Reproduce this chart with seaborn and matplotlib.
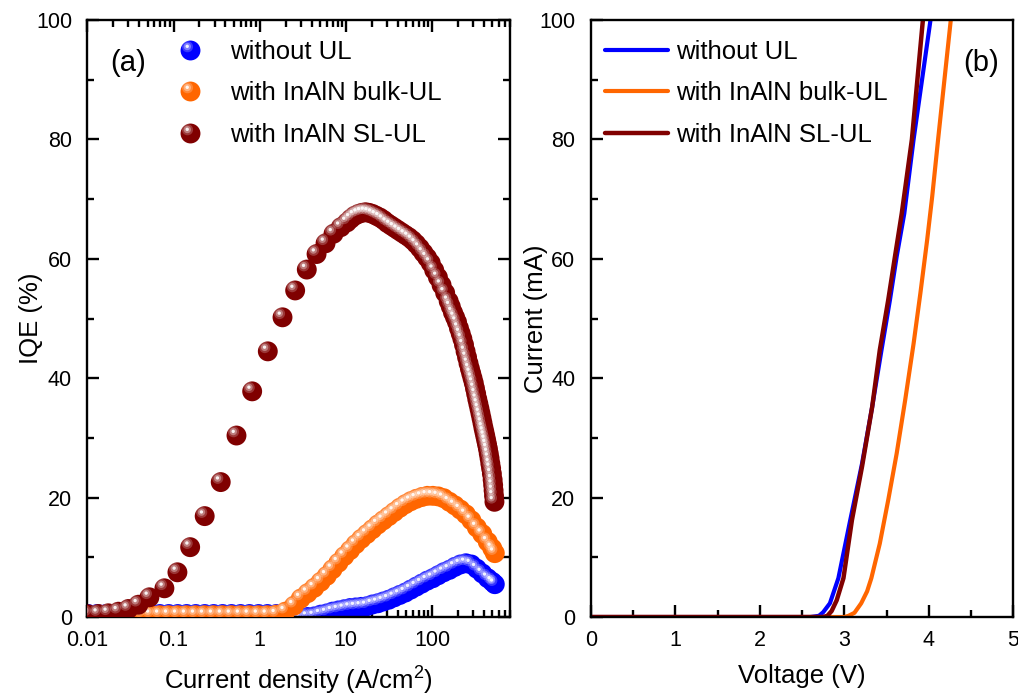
import matplotlib
matplotlib.use("Agg")
import matplotlib.pyplot as plt
import seaborn as sns
from matplotlib.path import Path
from matplotlib.markers import MarkerStyle
from matplotlib.lines import Line2D
from matplotlib.legend_handler import HandlerTuple
from matplotlib.ticker import FixedLocator, LogLocator, MultipleLocator, NullFormatter

OUTPUT_PATH = "out.png"

# ---- (a) IQE vs current density ----
series_names = ["without UL", "with InAlN bulk-UL", "with InAlN SL-UL"]
series_colors = ["#0000FF", "#FF6600", "#800000"]

j_bulk = [0.0102, 0.013, 0.0165, 0.021, 0.0266, 0.0338, 0.043, 0.0546, 0.0694, 0.088,
          0.112, 0.142, 0.181, 0.23, 0.292, 0.371, 0.471, 0.6, 0.76, 0.97, 1.23, 1.56,
          1.98, 2.5, 3.0, 3.6, 4.3, 5.1, 6.0, 7.0, 8.2, 9.6, 11.2, 13.0, 15.1, 17.5,
          20.3, 23.5, 27.2, 31.5, 36.5, 42.3, 49.0, 56.7, 65.7, 76.1, 88.1, 102, 118,
          137, 159, 184, 213, 247, 286, 331, 383, 443, 500, 535]

iqe_none = [0.5, 0.5, 0.5, 0.5, 0.5, 0.5, 0.5, 0.5, 0.5, 0.5, 0.5, 0.5, 0.5, 0.5, 0.5,
            0.5, 0.5, 0.5, 0.5, 0.5, 0.5, 0.5, 0.4, 0.2, -0.2, 0.0, 0.1, 0.4, 0.6, 0.9,
            1.1, 1.3, 1.5, 1.6, 1.7, 1.8, 2.1, 2.3, 2.6, 2.9, 3.3, 3.7, 4.1, 4.6, 5.1,
            5.6, 6.1, 6.5, 7.0, 7.5, 7.9, 8.4, 8.8, 9.0, 8.8, 8.1, 7.3, 6.5, 5.9, 5.5]

iqe_bulk = [0.3, 0.3, 0.3, 0.3, 0.3, 0.3, 0.3, 0.3, 0.3, 0.3, 0.3, 0.3, 0.3, 0.3, 0.3,
            0.3, 0.3, 0.3, 0.3, 0.3, 0.3, 0.4, 0.9, 1.9, 3.1, 4.0, 4.9, 5.9, 6.9, 8.0,
            9.1, 10.2, 11.2, 12.2, 13.1, 13.9, 14.7, 15.5, 16.2, 16.9, 17.6, 18.3, 18.9,
            19.4, 19.8, 20.1, 20.3, 20.3, 20.2, 19.9, 19.3, 18.7, 18.0, 17.2, 16.2, 15.0,
            13.9, 12.6, 11.5, 10.7]

j_sl = [0.0102, 0.0134, 0.0175, 0.0229, 0.0299, 0.0391, 0.0525, 0.0784, 0.111, 0.156,
        0.230, 0.353, 0.538, 0.818, 1.242, 1.84, 2.58, 3.52, 4.57, 5.81, 7.19, 8.75,
        10.3, 11.4, 12.6, 13.9, 15.3, 16.9, 18.6, 20.5, 22.6, 24.9, 27.4, 30.2, 33.3,
        36.7, 40.4, 44.5, 49.0, 54.0, 59.5, 65.5, 72.2, 79.5, 87.6, 96.5, 106, 117,
        129, 142, 156, 165, 175, 185, 195, 205, 215, 225, 235, 245, 255, 265, 275,
        285, 295, 305, 315, 325, 335, 345, 355, 365, 375, 385, 395, 405, 415, 425,
        435, 445, 455, 465, 475, 485, 495, 505, 512, 518, 524, 530]
iqe_sl = [0.45, 0.50, 0.62, 0.89, 1.34, 2.06, 3.30, 4.81, 7.49, 11.7, 16.9, 22.6, 30.4,
          37.8, 44.5, 50.2, 54.7, 58.2, 60.8, 62.6, 64.2, 65.3, 66.1, 66.7, 67.2, 67.5,
          67.7, 67.8, 67.7, 67.5, 67.2, 66.9, 66.5, 66.0, 65.6, 65.2, 64.8, 64.4, 64.0,
          63.6, 63.1, 62.5, 61.8, 61.0, 60.2, 59.3, 58.1, 56.9, 55.6, 54.3, 52.9, 52.0,
          51.0, 50.2, 49.4, 48.4, 47.5, 46.6, 45.6, 44.5, 43.5, 42.5, 41.6, 40.8, 40.0,
          39.2, 38.3, 37.4, 36.5, 35.7, 34.9, 34.1, 33.3, 32.5, 31.7, 31.0, 30.3, 29.6,
          28.9, 28.2, 27.4, 26.6, 25.7, 24.9, 24.0, 23.0, 22.1, 21.2, 20.3, 19.3]

j_ticks = [0.01, 0.1, 1, 10, 100]
j_ticklabels = ["0.01", "0.1", "1", "10", "100"]

# ---- (b) I-V curves ----
v_none = [0.0, 2.50, 2.60, 2.70, 2.75, 2.83, 2.93, 3.07, 3.21, 3.33, 3.44, 3.54, 3.62,
          3.71, 3.82, 4.02]
i_none = [0.0, 0.0, 0.0, 0.2, 0.8, 2.3, 6.5, 16.2, 25.7, 35.2, 44.7, 53.1, 60.4, 67.6,
          80.0, 100.0]

v_bulk = [0.0, 2.50, 3.00, 3.05, 3.12, 3.20, 3.27, 3.32, 3.42, 3.52, 3.62, 3.72, 3.82,
          3.90, 3.98, 4.04, 4.11, 4.26]
i_bulk = [0.0, 0.0, 0.0, 0.2, 0.7, 2.3, 4.3, 6.5, 12.3, 19.6, 27.4, 36.3, 45.8, 54.2,
          63.1, 70.4, 80.0, 100.0]

v_sl = [0.0, 2.50, 2.75, 2.80, 2.85, 2.91, 2.99, 3.09, 3.21, 3.33, 3.42, 3.52, 3.60,
        3.68, 3.80, 3.93]
i_sl = [0.0, 0.0, 0.0, 0.2, 1.0, 2.8, 6.5, 16.2, 25.2, 35.2, 44.7, 53.1, 60.4, 67.6,
        80.0, 100.0]


def highlight_marker(cx, cy, r):
    # off-centre glint; the two padding points keep the same scale as 'o'
    pad = Path([[1.0, 1.0], [-1.0, -1.0]], [Path.MOVETO, Path.MOVETO])
    return MarkerStyle(Path.make_compound_path(pad, Path.circle((cx, cy), r)))


# (marker, alpha) layers of the sphere glint, from soft halo to bright core
GLINT = [(highlight_marker(-0.30, 0.38, 0.56), 0.22),
         (highlight_marker(-0.32, 0.40, 0.37), 0.35),
         (highlight_marker(-0.33, 0.42, 0.17), 0.9)]
MS = 205


def sphere_scatter(ax, x, y, color, z):
    sns.scatterplot(x=x, y=y, ax=ax, color=color, s=MS, marker="o",
                    linewidth=0, edgecolor="none", zorder=z, legend=False)
    for k, (m, a) in enumerate(GLINT):
        sns.scatterplot(x=x, y=y, ax=ax, color="white", s=MS, marker=m, alpha=a,
                        linewidth=0, edgecolor="none", zorder=z + 0.1 * (k + 1),
                        legend=False)


def sphere_handle(color):
    ms = MS ** 0.5
    parts = [Line2D([], [], ls="none", marker="o", ms=ms, mfc=color, mec="none")]
    for m, a in GLINT:
        parts.append(Line2D([], [], ls="none", marker=m, ms=ms, mfc=(1, 1, 1, a),
                            mec="none"))
    return tuple(parts)


def style_axis(ax, mirror):
    for sp in ax.spines.values():
        sp.set_linewidth(1.7)
        sp.set_color("black")
    ax.tick_params(which="both", direction="in", width=1.7, top=mirror, right=mirror,
                   labelsize=15.5, colors="black")
    ax.tick_params(which="major", length=8.5)
    ax.tick_params(which="minor", length=5)
    ax.tick_params(axis="y", pad=11)
    ax.tick_params(axis="x", pad=9)


def main():
    sns.set_style("ticks")
    plt.rcParams["font.family"] = ["Liberation Sans", "DejaVu Sans"]
    plt.rcParams["mathtext.fontset"] = "custom"
    plt.rcParams["mathtext.rm"] = "Liberation Sans"
    plt.rcParams["mathtext.it"] = "Liberation Sans:italic"
    plt.rcParams["text.color"] = "black"
    plt.rcParams["axes.labelcolor"] = "black"

    fig = plt.figure(figsize=(10.18, 6.95), dpi=100)
    ax1 = fig.add_axes([0.0858, 0.1122, 0.4155, 0.859])
    ax2 = fig.add_axes([0.5803, 0.1122, 0.4151, 0.859])

    # ---- panel (a)
    ax1.set_xscale("log")
    sphere_scatter(ax1, j_bulk, iqe_none, series_colors[0], 2)
    sphere_scatter(ax1, j_bulk, iqe_bulk, series_colors[1], 3)
    sphere_scatter(ax1, j_sl, iqe_sl, series_colors[2], 4)

    ax1.set_xlim(0.01, 810)
    ax1.set_ylim(0, 100)
    ax1.xaxis.set_major_locator(FixedLocator(j_ticks))
    ax1.set_xticklabels(j_ticklabels)
    ax1.xaxis.set_minor_locator(LogLocator(base=10, subs=range(2, 10), numticks=20))
    ax1.xaxis.set_minor_formatter(NullFormatter())
    ax1.yaxis.set_major_locator(MultipleLocator(20))
    ax1.yaxis.set_minor_locator(MultipleLocator(10))
    style_axis(ax1, True)
    ax1.set_xlabel("Current density (A/cm$^2$)", fontsize=18.5, labelpad=10)
    ax1.set_ylabel("IQE (%)", fontsize=18.5)
    ax1.yaxis.set_label_coords(-0.105, 0.5)
    ax1.text(0.054, 0.928, "(a)", transform=ax1.transAxes, fontsize=21, va="center")

    handles = [sphere_handle(c) for c in series_colors]
    ax1.legend(handles, series_names, handler_map={tuple: HandlerTuple(ndivide=1, pad=0)},
               loc="upper left", bbox_to_anchor=(0.213, 0.967), frameon=False,
               fontsize=18.5, handlelength=1.0, handletextpad=1.05, borderpad=0,
               labelspacing=0.69, borderaxespad=0)

    # ---- panel (b)
    for v, i, c, name, lw in [(v_none, i_none, series_colors[0], series_names[0], 3.0),
                              (v_bulk, i_bulk, series_colors[1], series_names[1], 3.0),
                              (v_sl, i_sl, series_colors[2], series_names[2], 3.2)]:
        sns.lineplot(x=v, y=i, ax=ax2, sort=False, estimator=None, color=c, lw=lw,
                     label=name, solid_capstyle="round", solid_joinstyle="round")
    ax2.set_xlim(0, 5)
    ax2.set_ylim(0, 100)
    ax2.xaxis.set_major_locator(MultipleLocator(1))
    ax2.xaxis.set_minor_locator(MultipleLocator(0.5))
    ax2.yaxis.set_major_locator(MultipleLocator(20))
    ax2.yaxis.set_minor_locator(MultipleLocator(10))
    style_axis(ax2, False)
    ax2.set_xlabel("Voltage (V)", fontsize=18.5, labelpad=10)
    ax2.set_ylabel("Current (mA)", fontsize=18.5)
    ax2.yaxis.set_label_coords(-0.101, 0.5)
    ax2.text(0.881, 0.928, "(b)", transform=ax2.transAxes, fontsize=21, va="center")
    ax2.legend(loc="upper left", bbox_to_anchor=(0.034, 0.967), frameon=False,
               fontsize=18.5, handlelength=2.45, handletextpad=0.3, borderpad=0,
               labelspacing=0.69, borderaxespad=0)

    fig.savefig(OUTPUT_PATH, dpi=100)
    plt.close(fig)


if __name__ == "__main__":
    main()
